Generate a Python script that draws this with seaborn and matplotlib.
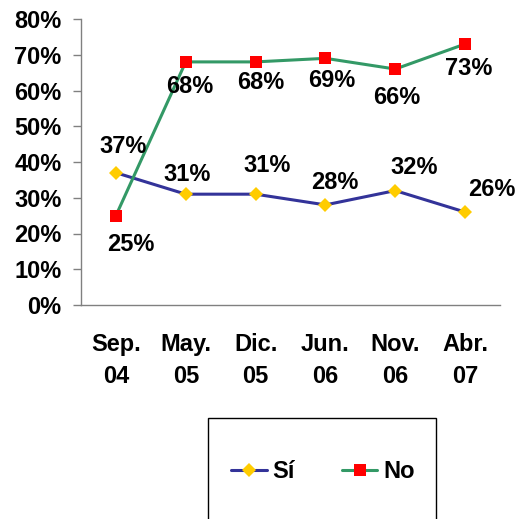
import numpy as np
import pandas as pd
import matplotlib
matplotlib.use('Agg')
import matplotlib.pyplot as plt
from matplotlib.patches import Rectangle
import seaborn as sns

# data
periods = ['Sep.\n04', 'May.\n05', 'Dic.\n05', 'Jun.\n06', 'Nov.\n06', 'Abr.\n07']
si_values = [0.37, 0.31, 0.31, 0.28, 0.32, 0.26]
no_values = [0.25, 0.68, 0.68, 0.69, 0.66, 0.73]
y_ticks = [0.0, 0.1, 0.2, 0.3, 0.4, 0.5, 0.6, 0.7, 0.8]

# label offsets (pixels, x right / y up) as placed in the original chart
si_offsets = [(7, 26), (1, 20), (12, 29), (9, 22), (19, 23), (27, 23)]
no_offsets = [(15, -29), (4, -25), (5, -21), (6, -22), (2, -28), (4, -24)]

sns.set_style('white')
plt.rcParams['font.family'] = ['Liberation Sans', 'DejaVu Sans']
plt.rcParams['font.weight'] = 'bold'
plt.rcParams['text.color'] = 'black'

df = pd.DataFrame({'pos': np.arange(len(periods)), 'si': si_values, 'no': no_values})

fig = plt.figure(figsize=(5.28, 5.19), dpi=100)
ax = fig.add_axes([81 / 528, 1 - 305 / 519, 419 / 528, 286 / 519])

sns.lineplot(data=df, x='pos', y='si', ax=ax, color='#333399', linewidth=2.2,
             marker='D', markersize=7.5, markerfacecolor='#FFCC00',
             markeredgewidth=0, label='Sí')
sns.lineplot(data=df, x='pos', y='no', ax=ax, color='#339966', linewidth=2.2,
             marker='s', markersize=8.5, markerfacecolor='#FF0000',
             markeredgewidth=0, label='No')

fs = 17
px = 72 / 100  # pixel -> point
for i, v in enumerate(si_values):
    dx, dy = si_offsets[i]
    ax.annotate(f'{round(v * 100)}%', (i, v), xytext=(dx * px, dy * px),
                textcoords='offset points', ha='center', va='center', color='black',
                fontsize=fs, fontweight='bold', annotation_clip=False)
for i, v in enumerate(no_values):
    dx, dy = no_offsets[i]
    ax.annotate(f'{round(v * 100)}%', (i, v), xytext=(dx * px, dy * px),
                textcoords='offset points', ha='center', va='center', color='black',
                fontsize=fs, fontweight='bold', annotation_clip=False)

ax.set_xlim(-0.5, len(periods) - 0.5)
ax.set_ylim(0, 0.8)
ax.set_xticks(df['pos'])
ax.set_xticklabels(periods, fontsize=fs, fontweight='bold', linespacing=1.5)
ax.set_xticks(np.arange(-0.5, len(periods)), minor=True)
ax.tick_params(axis='x', which='major', length=0, pad=20, labelcolor='black')
ax.tick_params(axis='x', which='minor', length=6, width=1, color='#808080', direction='out')
ax.set_yticks(y_ticks)
ax.set_yticklabels([f'{round(v * 100)}%' for v in y_ticks], fontsize=fs, fontweight='bold')
ax.tick_params(axis='y', length=6, width=1, color='#808080', direction='out', pad=8,
               left=True, labelcolor='black')
ax.set_xlabel('')
ax.set_ylabel('')

sns.despine(ax=ax)
for s in ['left', 'bottom']:
    ax.spines[s].set_color('#808080')
    ax.spines[s].set_linewidth(1)

ax.get_legend().remove()
handles = ax.get_lines()[:2]
leg = fig.legend(handles, ['Sí', 'No'], loc='center', bbox_to_anchor=(323 / 528, 1 - 472 / 519),
                 ncol=2, frameon=False, handlelength=1.5, handletextpad=0.25,
                 columnspacing=2.0, borderpad=0, prop={'weight': 'bold', 'size': fs})
for t in leg.get_texts():
    t.set_color('black')
fig.patches.append(Rectangle((208 / 528, -0.05), 228 / 528, 0.05 + 1 - 418 / 519,
                             transform=fig.transFigure, fill=False,
                             edgecolor='black', linewidth=1))

fig.savefig('out.png', dpi=100)
